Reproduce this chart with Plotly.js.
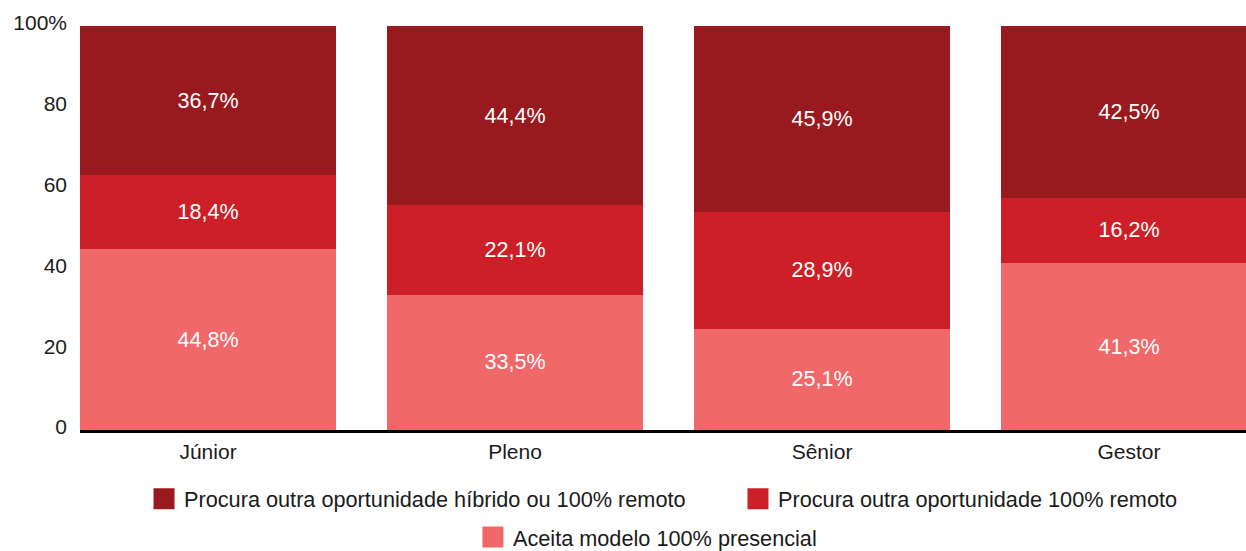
<!DOCTYPE html>
<html>
<head>
<meta charset="utf-8">
<script src="https://cdn.plot.ly/plotly-3.0.1.min.js"></script>
<style>html,body{margin:0;padding:0;background:#fff;}#chart{width:1246px;height:551px;}</style>
</head>
<body>
<div id="chart"></div>
<script>
const categories = ["Júnior", "Pleno", "Sênior", "Gestor"];
const aceitaPresencial = [44.8, 33.5, 25.1, 41.3];
const procuraRemoto = [18.4, 22.1, 28.9, 16.2];
const procuraHibrido = [36.7, 44.4, 45.9, 42.5];
const seriesNames = [
  "Procura outra oportunidade híbrido ou 100% remoto",
  "Procura outra oportunidade 100% remoto",
  "Aceita modelo 100% presencial"
];
const yTickVals = [0, 20, 40, 60, 80, 100];
const yTickText = ["0", "20", "40", "60", "80", "100%"];

const colors = { hib: "#981a1f", rem: "#cc1f27", pres: "#f0686a" };
const FONT = "Liberation Sans, Arial, sans-serif";

function barTrace(vals, color) {
  return {
    type: "bar", x: categories, y: vals,
    marker: { color: color, line: { width: 0 } },
    text: vals.map(v => v.toFixed(1).replace(".", ",") + "%"),
    textposition: "inside", insidetextanchor: "middle",
    textfont: { color: "#ffffff", size: 21.5, family: FONT },
    hoverinfo: "skip", showlegend: false
  };
}
function legendTrace(name, color, legendId) {
  return {
    type: "scatter", mode: "markers", x: [null], y: [null], name: name,
    marker: { symbol: "square", size: 16, color: color, line: { color: color, width: 5 } },
    legend: legendId, showlegend: true, hoverinfo: "skip"
  };
}

const data = [
  barTrace(aceitaPresencial, colors.pres),
  barTrace(procuraRemoto, colors.rem),
  barTrace(procuraHibrido, colors.hib),
  legendTrace(seriesNames[0], colors.hib, "legend"),
  legendTrace(seriesNames[1], colors.rem, "legend2"),
  legendTrace(seriesNames[2], colors.pres, "legend3")
];

const legendFont = { family: FONT, size: 21.7, color: "#1a1a1a" };
const layout = {
  width: 1246, height: 551,
  margin: { l: 80, r: 0, t: 26, b: 121, autoexpand: false },
  paper_bgcolor: "#ffffff", plot_bgcolor: "#ffffff",
  barmode: "stack", bargap: 0.166,
  separators: ",.",
  font: { family: FONT, size: 21, color: "#1a1a1a" },
  xaxis: {
    type: "category", range: [-0.417, 3.381],
    showline: true, linecolor: "#000000", linewidth: 2.5,
    showgrid: false, zeroline: false, ticks: "",
    tickfont: { family: FONT, size: 21, color: "#1a1a1a" },
    ticklabelstandoff: 1, fixedrange: true
  },
  yaxis: {
    range: [0, 100], tickmode: "array", tickvals: yTickVals, ticktext: yTickText,
    showgrid: false, zeroline: false, showline: false, ticks: "",
    tickfont: { family: FONT, size: 21, color: "#1a1a1a" },
    ticklabelstandoff: 12, ticklabelshift: -3, fixedrange: true
  },
  showlegend: true,
  legend: { orientation: "h", x: 0.0549, xanchor: "left", y: -0.171, yanchor: "middle", font: legendFont, bgcolor: "rgba(0,0,0,0)", itemclick: false },
  legend2: { orientation: "h", x: 0.5643, xanchor: "left", y: -0.171, yanchor: "middle", font: legendFont, bgcolor: "rgba(0,0,0,0)", itemclick: false },
  legend3: { orientation: "h", x: 0.337, xanchor: "left", y: -0.266, yanchor: "middle", font: legendFont, bgcolor: "rgba(0,0,0,0)", itemclick: false }
};

Plotly.newPlot("chart", data, layout, { displayModeBar: false, staticPlot: true });
</script>
</body>
</html>
